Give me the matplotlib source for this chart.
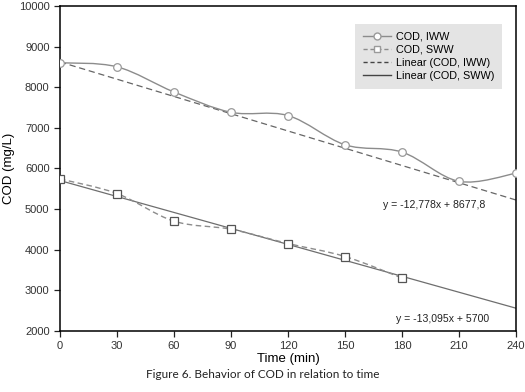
import numpy as np
import matplotlib
matplotlib.use("Agg")
import matplotlib.pyplot as plt
from matplotlib.path import Path
from matplotlib.patches import PathPatch
from matplotlib.lines import Line2D

plt.rcParams['font.family'] = ['Liberation Sans', 'DejaVu Sans']

# data
time_iww = [0, 30, 60, 90, 120, 150, 180, 210, 240]
cod_iww = [8600, 8500, 7880, 7380, 7300, 6580, 6400, 5680, 5880]
time_sww = [0, 30, 60, 90, 120, 150, 180]
cod_sww = [5740, 5380, 4700, 4500, 4150, 3830, 3300]
x_ticks = [0, 30, 60, 90, 120, 150, 180, 210, 240]
y_ticks = [2000, 3000, 4000, 5000, 6000, 7000, 8000, 9000, 10000]
# trend lines as drawn in the picture (ends at t=0 and t=240)
trend_t = [0, 240]
trend_iww = [8620, 5220]
trend_sww = [5700, 2557]
eq_iww = "y = -12,778x + 8677,8"
eq_sww = "y = -13,095x + 5700"


def smooth_path(x, y):
    # cubic bezier through the points (like excel smoothed lines)
    x = np.asarray(x, float)
    y = np.asarray(y, float)
    verts = [(x[0], y[0])]
    codes = [Path.MOVETO]
    n = len(x)
    for i in range(n - 1):
        p0 = (x[max(i - 1, 0)], y[max(i - 1, 0)])
        p1 = (x[i], y[i])
        p2 = (x[i + 1], y[i + 1])
        p3 = (x[min(i + 2, n - 1)], y[min(i + 2, n - 1)])
        t = 1 / 6
        c1 = (p1[0] + (p2[0] - p0[0]) * t, p1[1] + (p2[1] - p0[1]) * t)
        c2 = (p2[0] - (p3[0] - p1[0]) * t, p2[1] - (p3[1] - p1[1]) * t)
        verts += [c1, c2, p2]
        codes += [Path.CURVE4] * 3
    return Path(verts, codes)


fig = plt.figure(figsize=(5.25, 3.92), dpi=100)
ax = fig.add_axes([0.1143, 0.156, 0.8687, 0.829])

c_iww = "#8c8c8c"
c_sww = "#6e6e6e"

ax.add_patch(PathPatch(smooth_path(time_iww, cod_iww), fill=False,
                       edgecolor=c_iww, lw=1.0, zorder=3))
ax.add_patch(PathPatch(smooth_path(time_sww, cod_sww), fill=False,
                       edgecolor=c_iww, lw=1.0, ls=(0, (4, 2.5)), zorder=3))

ax.plot(time_iww, cod_iww, ls="none", marker="o", ms=5.5, mfc="white",
        mec="#9a9a9a", mew=0.9, zorder=4)
ax.plot(time_sww, cod_sww, ls="none", marker="s", ms=6, mfc="white",
        mec="#555555", mew=0.9, zorder=4)

ax.plot(trend_t, trend_iww, color="#666666", lw=0.9, ls=(0, (5, 3)), zorder=2)
ax.plot(trend_t, trend_sww, color=c_sww, lw=0.9, zorder=2)

ax.text(170, 5100, eq_iww, fontsize=7.6, color="#222222", va="center")
ax.text(177, 2290, eq_sww, fontsize=7.6, color="#222222", va="center")

ax.set_xlim(0, 240)
ax.set_ylim(2000, 10000)
ax.set_xticks(x_ticks)
ax.set_yticks(y_ticks)
ax.tick_params(labelsize=8, length=4, width=0.9, colors="#222222",
               labelcolor="#333333")
for s in ax.spines.values():
    s.set_linewidth(1.1)

ax.set_xlabel("Time (min)", fontsize=9.5, labelpad=1)
ax.set_ylabel("COD (mg/L)", fontsize=9.5, labelpad=3)

handles = [
    Line2D([], [], color=c_iww, lw=1, marker="o", ms=5, mfc="white", mec="#9a9a9a"),
    Line2D([], [], color=c_iww, lw=1, ls=(0, (3, 2)), marker="s", ms=4, mfc="white", mec="#9a9a9a"),
    Line2D([], [], color="#444444", lw=1, ls=(0, (3, 2))),
    Line2D([], [], color="#444444", lw=1),
]
labels = ["COD, IWW", "COD, SWW", "Linear (COD, IWW)", "Linear (COD, SWW)"]
leg = ax.legend(handles, labels, loc="upper left", bbox_to_anchor=(0.647, 0.945),
                fontsize=7.8, frameon=True, fancybox=False, handlelength=2.6,
                borderpad=0.75, labelspacing=0.28, handletextpad=0.4,
                borderaxespad=0)
leg.get_frame().set_facecolor("#e4e4e4")
leg.get_frame().set_edgecolor("none")
leg.get_frame().set_alpha(1)

fig.text(0.5, 0.035, "Figure 6. Behavior of COD in relation to time",
         ha="center", fontsize=8.5, family=["Lato", "DejaVu Sans"], color="#222222")

fig.savefig("out.png", dpi=100)
